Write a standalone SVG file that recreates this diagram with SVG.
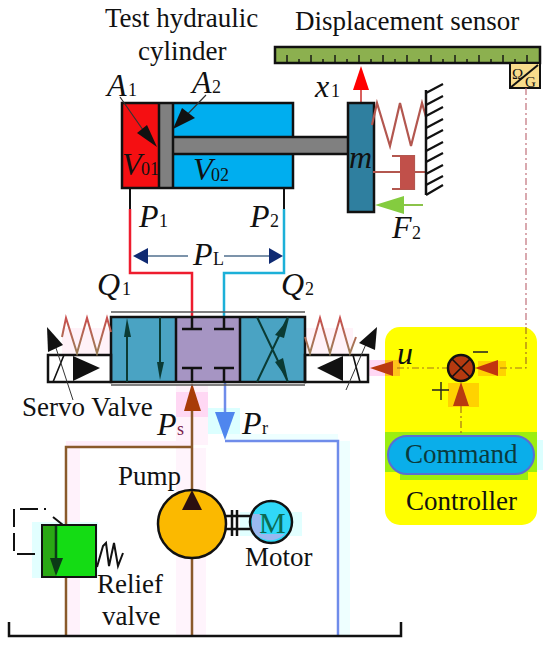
<svg xmlns="http://www.w3.org/2000/svg" width="550" height="650" viewBox="0 0 550 650">
<defs>
<linearGradient id="sg" gradientUnits="userSpaceOnUse" x1="0" y1="318" x2="0" y2="354"><stop offset="0" stop-color="#c9504f"/><stop offset="1" stop-color="#9a8058"/></linearGradient>
</defs>
<style>
text{font-family:"Liberation Serif","Times New Roman",serif;fill:#111}
.t{font-size:27px}
.i{font-size:32px;font-style:italic}
.s{font-size:18px}
.k{stroke:#111;stroke-width:2.5;fill:none}
.h{stroke:#111;stroke-width:2.2}
.sp{fill:none;stroke:#b3574f;stroke-width:2.2}
.vs{fill:none;stroke:url(#sg);stroke-width:2}
.dash{fill:none;stroke:#c0707a;stroke-width:1.2;stroke-dasharray:7 3 2 3}
.dc{fill:none;stroke:#a5741a;stroke-width:1.2;stroke-dasharray:7 3 2 3}
.br{fill:none;stroke:#8a5a2b;stroke-width:2.5}
.bl{fill:none;stroke:#6f8cea;stroke-width:2.5}
.dg{stroke:#0b3b34;stroke-width:2;fill:none}
</style>
<rect width="550" height="650" fill="#fff"/>
<g id="halos">
<rect x="176" y="385" width="32" height="60" fill="#fff2fb"/>
<rect x="176" y="392" width="32" height="25" fill="#ffd8f4"/>
<rect x="208" y="408" width="32" height="26" fill="#dcffff"/>
<rect x="66" y="441" width="125" height="6" fill="#ffeefa"/>
<rect x="68" y="448" width="12" height="188" fill="#fff2fb"/>
<rect x="176" y="448" width="30" height="188" fill="#fff4fc"/>
<rect x="340" y="441" width="10" height="195" fill="#eeffff"/>
<rect x="225" y="434" width="113" height="7" fill="#eeffff"/>
<rect x="62" y="328" width="49" height="27" fill="#fff2f8"/>
<rect x="305" y="328" width="48" height="27" fill="#fff2f8"/>
<rect x="32" y="522" width="66" height="56" fill="#e2ffff"/>
<rect x="240" y="512" width="62" height="24" fill="#e2ffff"/>
<rect x="369" y="360" width="16" height="16" fill="#ffd8f4"/>
</g>
<g id="connectors">
<path d="M130 188V209M284 188V209" stroke="#111" stroke-width="2" fill="none"/>
<path d="M130 209V273H192V317" fill="none" stroke="#ee1c2e" stroke-width="2.5"/>
<path d="M284 209V273H224V317" fill="none" stroke="#1cb0d8" stroke-width="2.5"/>
<path class="br" d="M192 405V490M192 558V636M192 447H66V525M66 577V636"/>
<path class="bl" d="M225 382V415M225 441H338V636"/>
<path d="M361 103V88" stroke="#d9605e" stroke-width="2"/>
<polygon points="361,66 353,90 369,90" fill="#f00"/>
<path d="M423 205H395" stroke="#8bc34a" stroke-width="2"/>
<polygon points="375,205 404,196 404,214" fill="#84cc3f"/>
<path d="M146 256H188M224 256H270" stroke="#51708f" stroke-width="1.5"/>
<polygon points="133,256 148,248 148,264" fill="#0f2a72"/>
<polygon points="283,256 269,248 269,264" fill="#0f2a72"/>
<polygon points="192,383 184,411 201,411" fill="#a83c08"/>
<polygon points="225,440 215,412 235,412" fill="#4f86ee"/>
</g>
<g id="cylinder">
<rect x="122" y="103" width="38" height="85" fill="#f50f12"/>
<rect x="160" y="103" width="13" height="85" fill="#808080"/>
<rect x="173" y="103" width="120" height="85" fill="#00aeef"/>
<rect x="122" y="103" width="171" height="85" class="k"/>
<rect x="173" y="137" width="175" height="17" fill="#808080"/>
<path class="k" d="M173 137H348M173 154H348"/>
<path class="k" d="M159 103V188M173 103V188"/>
<path d="M120 97L150 140M206 95L180 122" stroke="#333" stroke-width="1.2"/>
<polygon points="157,147 137,133 147,125" fill="#111"/>
<polygon points="173,129 182,108 195,118" fill="#111"/>
<text class="t" x="105" y="27">Test hydraulic</text>
<text class="t" x="138" y="60">cylinder</text>
<text class="i" x="107" y="96">A</text><text class="s" x="128" y="96">1</text>
<text class="i" x="192" y="93">A</text><text class="s" x="212" y="93">2</text>
<text class="i" x="122" y="175">V</text><text class="s" x="141" y="175">01</text>
<text class="i" x="193" y="180">V</text><text class="s" x="211" y="181">02</text>
<text class="i" x="139" y="227">P</text><text class="s" x="159" y="227">1</text>
<text class="i" x="250" y="227">P</text><text class="s" x="270" y="227">2</text>
</g>
<g id="load">
<rect x="348" y="103" width="26" height="109" fill="#2f7f9f" stroke="#111" stroke-width="2.5"/>
<text class="i" x="349" y="168">m</text>
<path class="sp" d="M372 125L377 103L390 146L400 103L411 146L422 103L426 117"/>
<path class="sp" d="M373 172H400M414 172H426"/>
<path class="sp" d="M392 156H414V189H392" stroke-width="2"/>
<rect x="400" y="156" width="14" height="33" fill="#c1504a"/>
<path class="k" d="M426 90V195" stroke-width="3"/>
<path class="h" d="M426 93L443 84M426 105L443 96M426 116L443 107M426 128L443 119M426 139L443 130M426 151L443 142M426 162L443 153M426 174L443 165M426 185L443 176M426 195L443 185"/>
<text class="i" x="392" y="238">F</text><text class="s" x="412" y="239">2</text>
<text class="i" x="315" y="97">x</text><text class="s" x="331" y="97">1</text>
</g>
<g id="sensor">
<rect x="275" y="47" width="265" height="16" fill="#8cb04f" stroke="#111" stroke-width="2.5"/>
<path stroke="#111" stroke-width="1.4" fill="none" d="M287 62V55M299 62V59M311 62V55M323 62V59M335 62V55M347 62V59M359 62V55M371 62V59M383 62V55M395 62V59M407 62V55M419 62V59M431 62V55M443 62V59M455 62V55M467 62V59M479 62V55M491 62V59M503 62V55M515 62V59M527 62V55"/>
<rect x="510" y="63" width="30" height="25" fill="#f8dc8c" stroke="#111" stroke-width="2"/>
<path d="M510 88L538 65" stroke="#111" stroke-width="2"/>
<text x="512" y="79" font-size="15">Ω</text><text x="525" y="87" font-size="15">G</text>
<text class="t" x="295" y="30">Displacement sensor</text>
</g>
<g id="servo-valve">
<rect x="111" y="317" width="65" height="65" fill="#4aa3c3"/>
<rect x="176" y="317" width="64" height="65" fill="#a695c3"/>
<rect x="240" y="317" width="65" height="65" fill="#4aa3c3"/>
<path d="M111 312H305M111 385H305" stroke="#555" stroke-width="1.5"/>
<rect x="111" y="317" width="194" height="65" class="k"/>
<path class="k" d="M176 317V382M240 317V382"/>
<path class="dg" d="M127 382V330M160 317V370M257 317L288 382M257 382L288 317"/>
<polygon points="127,318 124,337 131,337" fill="#0b3b34"/>
<polygon points="160,380 157,362 164,362" fill="#0b3b34"/>
<polygon points="289,318 275,335 284,338" fill="#0b3b34"/>
<polygon points="288,380 275,362 283,358" fill="#0b3b34"/>
<path class="k" d="M192 317V329M182 329H202M224 317V329M214 329H234M182 368H202M192 368V382M214 368H234M224 368V382" stroke-width="2.2"/>
<rect x="48" y="355" width="63" height="27" fill="#fff" class="k"/>
<rect x="305" y="355" width="63" height="27" fill="#fff" class="k"/>
<polygon points="73,356 100,368 73,381" fill="#111"/>
<polygon points="343,356 317,368 343,381" fill="#111"/>
<path d="M53 382L64 355M353 355L360 382" stroke="#111" stroke-width="1.6"/>
<path d="M55 345L73 400M346 390L370 335" stroke="#333" stroke-width="1"/>
<polygon points="47,327 63,345 48,352" fill="#111"/>
<polygon points="377,327 359,343 375,350" fill="#111"/>
<path class="vs" d="M62 337L66 318L77 353L87 318L97 353L107 318L111 332"/>
<path class="vs" d="M305 337L310 353L320 318L330 353L340 318L350 353L356 337"/>
<text class="t" x="22" y="416">Servo Valve</text>
<text class="i" x="157" y="435">P</text><text class="s" x="177" y="435" style="fill:#7a1f4d">s</text>
<text class="i" x="242" y="434">P</text><text class="s" x="262" y="434">r</text>
<text class="i" x="193" y="265">P</text><text class="s" x="213" y="265">L</text>
<text class="i" x="97" y="295">Q</text><text class="s" x="122" y="295">1</text>
<text class="i" x="281" y="295">Q</text><text class="s" x="305" y="295">2</text>
</g>
<g id="controller">
<rect x="537" y="440" width="6" height="30" fill="#dcffff"/>
<rect x="385" y="327" width="152" height="198" rx="15" fill="#ff0"/>
<rect x="385" y="432" width="152" height="40" fill="#9bee10"/>
<rect x="400" y="472" width="128" height="8" fill="#9bee10"/>
<rect x="448" y="383" width="31" height="24" fill="#ffd200"/>
<rect x="478" y="361" width="28" height="15" fill="#ffd200"/>
<rect x="385" y="360" width="15" height="16" fill="#ffc41a"/>
<rect x="388" y="436" width="146" height="38" rx="19" fill="#0aaeea" stroke="#5a6fd0" stroke-width="2"/>
<text class="t" x="405" y="463" style="fill:#0a3b3d">Command</text>
<text class="t" x="406" y="510">Controller</text>
<path class="dash" d="M526 88V327"/>
<path class="dc" d="M526 327V368H500M449 368H394M461 406V436"/>
<circle cx="461" cy="368" r="13" fill="#b53a10" stroke="#111" stroke-width="2.5"/>
<path d="M452 359L470 377M470 359L452 377" stroke="#111" stroke-width="1.6"/>
<polygon points="370,368 393,361 393,376" fill="#bb3a10"/>
<polygon points="475,368 498,360 498,376" fill="#c2350f"/>
<polygon points="461,382 453,406 469,406" fill="#b83a10"/>
<text class="i" x="397" y="364">u</text>
<path d="M473 352H488M432 390H449M441 382V400" stroke="#222" stroke-width="1.4"/>
</g>
<g id="pump">
<circle cx="192" cy="524" r="34" fill="#fbb900" stroke="#111" stroke-width="2.5"/>
<polygon points="192,490 182,510 202,510" fill="#2c0f10"/>
<text class="t" x="118" y="485">Pump</text>
</g>
<g id="motor">
<path class="k" d="M226 516H250M226 529H250M232 510V536M237 510V536" stroke-width="2"/>
<circle cx="271" cy="522" r="21" fill="#30d8f8"/>
<path d="M252 514H261V534H285A21 21 0 0 1 252 530Z" fill="#9ab8f0"/>
<circle cx="271" cy="522" r="21" fill="none" stroke="#111" stroke-width="2.5"/>
<text x="259" y="533" font-size="30" style="fill:#0b6b54">M</text>
<text class="t" x="245" y="566">Motor</text>
</g>
<g id="relief-valve">
<rect x="42" y="525" width="54" height="52" fill="#14dc14" stroke="#111" stroke-width="2"/>
<rect x="43" y="526" width="13" height="50" fill="#2aa814"/>
<path d="M56 526V560" stroke="#0b3b16" stroke-width="2.5"/>
<polygon points="56,576 50,558 63,558" fill="#0b3b16"/>
<path d="M35 554H14V509H46M53 517L63 525" fill="none" stroke="#111" stroke-width="2" stroke-dasharray="18 6"/>
<path d="M97 567L103 546L106 543L109 566L114 543L118 566L123 553" fill="none" stroke="#111" stroke-width="2"/>
<text class="t" x="97" y="593">Relief</text>
<text class="t" x="102" y="625">valve</text>
</g>
<g id="tank">
<path d="M9 622V636H401V622" fill="none" stroke="#111" stroke-width="2.5"/>
</g>
</svg>
